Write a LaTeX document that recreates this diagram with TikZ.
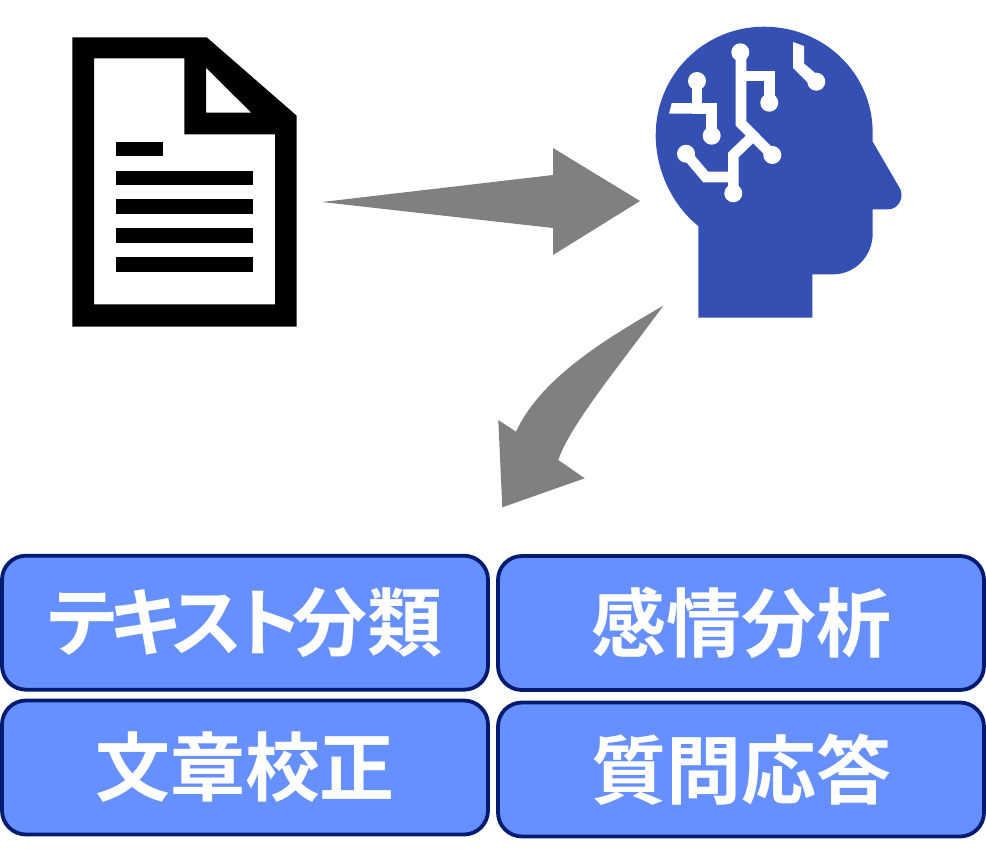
\documentclass[tikz,border=0pt]{standalone}
\usepackage{fontspec}
\newfontfamily\cjk{Noto Sans CJK JP}[BoldFont={Noto Sans CJK JP Bold}]
\newfontfamily\cjkp{Noto Sans CJK JP}[BoldFont={Noto Sans CJK JP Bold},RawFeature=+palt]
\definecolor{headblue}{HTML}{3350B2}
\definecolor{boxfill}{HTML}{668FFF}
\definecolor{boxline}{HTML}{001B70}
\definecolor{arrowgrey}{HTML}{808080}
\tikzset{
  taskbox/.style={draw=boxline,fill=boxfill,line width=3.8pt,rounded corners=24pt,minimum width=486pt,minimum height=134pt,inner sep=0pt,text=white,font=\cjk\bfseries\fontsize{75}{75}\selectfont},
  blockarrow/.style={fill=arrowgrey,draw=none},
  circuit/.style={draw=white,line width=10.6pt,line join=miter},
  pad/.style={fill=white,draw=none},
  docink/.style={fill=black,draw=none,even odd rule}
}
\begin{document}
\begin{tikzpicture}[x=1pt,y=-1pt]
\useasboundingbox (0,0) rectangle (986,860);
% document icon
\fill[docink] (72.3,37.3) -- (206.7,37.3) -- (296.7,115.7) -- (296.7,326.7) -- (72.3,326.7) -- cycle
  (94,58.3) -- (184.3,58.3) -- (184.3,134.3) -- (275,134.3) -- (275,304.3) -- (94,304.3) -- cycle
  (206,67.7) -- (251.3,112.7) -- (206,112.7) -- cycle;
\fill (115.7,141.7) rectangle (162.7,156);
\fill (115.7,170.7) rectangle (253.3,185);
\fill (115.7,199.3) rectangle (253.3,213.7);
\fill (115.7,228.3) rectangle (253.3,242.7);
\fill (115.7,257.3) rectangle (253.3,271.7);
% head
\fill[headblue] (698.3,317.7) -- (812.3,317.7) -- (812.3,274.3) -- (833.3,274.3)
  .. controls (855,274.3) and (872.7,256) .. (872.7,233.3) -- (872.7,209.3) -- (888.3,209.3)
  .. controls (899,209.3) and (906,196) .. (898.3,185.7) -- (872.7,141.7) -- (872.7,133)
  .. controls (872.7,73) and (824,26.7) .. (764,26.7)
  .. controls (704,26.7) and (655.7,75) .. (655.7,135)
  .. controls (655.7,170) and (672,205) .. (698.3,226) -- cycle;
% circuit traces
\draw[circuit] (741,52) -- (741,123.3) -- (772.3,155);
\draw[circuit] (741,76) -- (769.3,76) -- (769.3,102.7);
\draw[circuit] (754,135) -- (733.3,155) -- (733.3,193.3);
\draw[circuit] (686,153.7) -- (705.7,177) -- (733.3,177);
\draw[circuit] (697,81) -- (697,108.3) -- (711.7,108.3) -- (711.7,135.7);
\fill[pad] (671.7,103) -- (700,103) -- (700,113.7) -- (669,113.7) -- cycle;
\fill[pad] (793,42) -- (804,46) -- (804,63.5) -- (820,77) -- (812,87) -- (793,68) -- cycle;
\foreach \cx/\cy in {740.3/52.3,769.3/102.7,772.3/155,733.3/193.3,686/153.7,697/81,711.7/135.7,816.3/81.7}
  \fill[pad] (\cx,\cy) circle[radius=9];
% arrows
\fill[blockarrow] (322,202) -- (553,175) -- (553,148) -- (640,201) -- (553,255) -- (553,228) -- cycle;
\fill[blockarrow] (663.3,305.7) .. controls (600,342) and (540,380) .. (516,431.7) -- (498.3,420) -- (502.3,507.3) -- (584.7,478.3) -- (558.3,460)
  .. controls (570,425) and (620,365) .. cycle;
% task boxes
\node[taskbox] (classify) at (245,622.7) {{\cjkp\bfseries テ\kern-7ptキ\kern-7ptス\kern-5ptト}\kern-8pt 分類};
\node[taskbox] (sentiment) at (741,623) {感情分析};
\node[taskbox] (proofread) at (245,767.5) {文章校正};
\node[taskbox] (qa) at (741,769.5) {質問応答};
\end{tikzpicture}
\end{document}
